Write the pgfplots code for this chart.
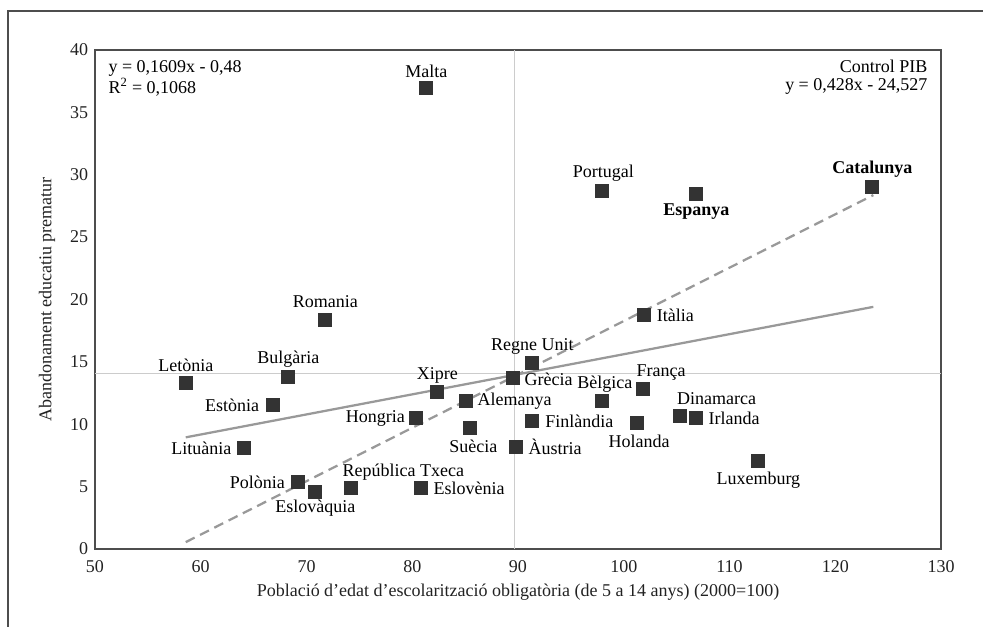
\documentclass[border=0pt]{standalone}
\usepackage{fontspec}
\setmainfont{Liberation Serif}
\usepackage{pgfplots}
\pgfplotsset{compat=1.18}
\definecolor{mk}{HTML}{333333}
\definecolor{trend}{HTML}{999999}
\definecolor{refl}{HTML}{CCCCCC}
\definecolor{frame}{HTML}{4D4D4D}
\definecolor{txt}{HTML}{222222}
\begin{document}
\fontsize{13.5}{16}\selectfont
\begin{tikzpicture}
\useasboundingbox (0,0) rectangle (737.25pt,469.5pt);
\clip (0,0) rectangle (737.25pt,469.5pt);
\draw[color=frame, line width=0.9pt] (6pt,-10pt) -- (6pt,461.25pt) -- (760pt,461.25pt);
\begin{axis}[
  at={(71.25pt,57.75pt)}, anchor=south west,
  scale only axis, width=634.5pt, height=374.25pt,
  xmin=50, xmax=130, ymin=0, ymax=40,
  xtick={50,60,...,130}, ytick={0,5,...,40},
  major tick length=0pt,
  axis line style={color=frame, line width=0.9pt},
  /pgf/number format/assume math mode=true,
  tick label style={font=\fontsize{13.5}{16}\selectfont, text=txt},
  xticklabel style={anchor=center, yshift=-13.5pt},
  yticklabel style={anchor=east, inner sep=0pt, xshift=-5pt},
  xlabel={Població d’edat d’escolarització obligatòria (de 5 a 14 anys) (2000=100)},
  ylabel={Abandonament educatiu prematur},
  xlabel style={at={(axis description cs:0.5,-0.0862)}, anchor=center, text=txt},
  ylabel style={at={(axis description cs:-0.0567,0.5)}, anchor=center, text=txt},
  clip=false,
  every node/.style={text=txt, font=\fontsize{13.5}{16}\selectfont},
]
% reference lines
\addplot[refl, line width=0.9pt] coordinates {(89.7,0) (89.7,40)};
\addplot[refl, line width=0.9pt] coordinates {(50,14.08) (130,14.08)};
% trend lines
\addplot[trend, line width=1.7pt] coordinates {(58.58,8.95) (123.6,19.41)};
\addplot[trend, line width=1.7pt, dash pattern=on 7.5pt off 4.5pt] coordinates {(58.58,0.55) (123.6,28.37)};
% points
\addplot[only marks, mark=square*, mark size=4.8pt, mark options={fill=mk, draw=mk, line width=0pt}] coordinates {
(81.33,36.93) (71.78,18.36) (58.60,13.28) (68.28,13.81) (66.80,11.52)
(64.12,8.07) (82.37,12.56) (80.39,10.47) (85.08,11.86) (85.49,9.67)
(69.23,5.35) (70.84,4.60) (74.24,4.86) (80.86,4.86) (101.91,18.76)
(91.36,14.88) (89.56,13.68) (101.85,12.80) (97.97,11.86) (91.36,10.26)
(101.28,10.07) (105.32,10.66) (106.86,10.47) (89.84,8.20) (112.73,7.03)
(97.97,28.70) (106.86,28.43) (123.51,28.99)
};
% labels
\node[anchor=center, yshift=12.5pt] at (axis cs:81.33,36.93) {Malta};
\node[anchor=center, yshift=13.5pt] at (axis cs:71.78,18.36) {Romania};
\node[anchor=center, yshift=13.7pt] at (axis cs:58.60,13.28) {Letònia};
\node[anchor=center, yshift=13pt] at (axis cs:68.28,13.81) {Bulgària};
\node[anchor=east, inner sep=0pt, xshift=-10pt] at (axis cs:66.80,11.52) {Estònia};
\node[anchor=east, inner sep=0pt, xshift=-9.5pt] at (axis cs:64.12,8.07) {Lituània};
\node[anchor=center, yshift=12.5pt] at (axis cs:82.37,12.56) {Xipre};
\node[anchor=east, inner sep=0pt, xshift=-8.5pt] at (axis cs:80.39,10.47) {Hongria};
\node[anchor=west, inner sep=0pt, xshift=8.5pt] at (axis cs:85.08,11.86) {Alemanya};
\node[anchor=center, xshift=2.25pt, yshift=-13.8pt] at (axis cs:85.49,9.67) {Suècia};
\node[anchor=east, inner sep=0pt, xshift=-10pt] at (axis cs:69.23,5.35) {Polònia};
\node[anchor=center, yshift=-12.5pt] at (axis cs:70.84,4.60) {Eslovàquia};
\node[anchor=center, xshift=39pt, yshift=12.5pt] at (axis cs:74.24,4.86) {República Txeca};
\node[anchor=west, inner sep=0pt, xshift=9pt] at (axis cs:80.86,4.86) {Eslovènia};
\node[anchor=west, inner sep=0pt, xshift=9.5pt] at (axis cs:101.91,18.76) {Itàlia};
\node[anchor=center, yshift=13pt] at (axis cs:91.36,14.88) {Regne Unit};
\node[anchor=west, inner sep=0pt, xshift=8.25pt, yshift=-0.75pt] at (axis cs:89.56,13.68) {Grècia};
\node[anchor=center, xshift=13.3pt, yshift=12.5pt] at (axis cs:101.85,12.80) {França};
\node[anchor=center, xshift=2pt, yshift=12.75pt] at (axis cs:97.97,11.86) {Bèlgica};
\node[anchor=west, inner sep=0pt, xshift=9.5pt] at (axis cs:91.36,10.26) {Finlàndia};
\node[anchor=center, xshift=1.3pt, yshift=-13.8pt] at (axis cs:101.28,10.07) {Holanda};
\node[anchor=center, xshift=27.5pt, yshift=13.3pt] at (axis cs:105.32,10.66) {Dinamarca};
\node[anchor=west, inner sep=0pt, xshift=9pt] at (axis cs:106.86,10.47) {Irlanda};
\node[anchor=west, inner sep=0pt, xshift=9pt] at (axis cs:89.84,8.20) {Àustria};
\node[anchor=center, yshift=-14.5pt] at (axis cs:112.73,7.03) {Luxemburg};
\node[anchor=center, xshift=0.75pt, yshift=13.3pt] at (axis cs:97.97,28.70) {Portugal};
\node[anchor=center, yshift=-13pt] at (axis cs:106.86,28.43) {\bfseries Espanya};
\node[anchor=center, yshift=13.5pt] at (axis cs:123.51,28.99) {\bfseries Catalunya};
% equations
\node[anchor=west, inner sep=0pt] at (axis cs:51.26,38.55) {y = 0,1609x - 0,48};
\node[anchor=west, inner sep=0pt] at (axis cs:51.26,36.98) {R\textsuperscript{2} = 0,1068};
\node[anchor=east, inner sep=0pt] at (axis cs:128.74,38.72) {Control PIB};
\node[anchor=east, inner sep=0pt] at (axis cs:128.74,37.10) {y = 0,428x - 24,527};
\end{axis}
\end{tikzpicture}
\end{document}
